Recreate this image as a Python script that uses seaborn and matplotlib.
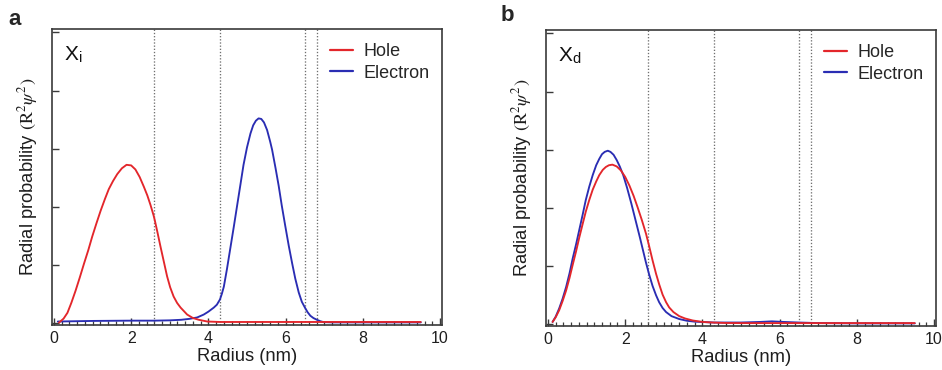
import numpy as np
import pandas as pd
import matplotlib
matplotlib.use("Agg")
import matplotlib.pyplot as plt
import seaborn as sns
from matplotlib.ticker import MultipleLocator

# ---------------- data ----------------
# Panel a (X_i)
a_hole_x = [0.13, 0.25, 0.35, 0.45, 0.56, 0.67, 0.78, 0.89, 0.99, 1.10, 1.21, 1.32, 1.42,
            1.53, 1.64, 1.76, 1.88, 2.00, 2.11, 2.22, 2.33, 2.42, 2.50, 2.58, 2.61, 2.68,
            2.76, 2.85, 2.93, 3.01, 3.10, 3.19, 3.28, 3.45, 3.60, 3.75, 3.97, 4.30, 5.0,
            6.0, 7.0, 8.0, 9.0, 9.5]
a_hole_y = [0.00, 0.07, 0.17, 0.34, 0.55, 0.78, 1.02, 1.25, 1.48, 1.71, 1.93, 2.13, 2.30,
            2.44, 2.56, 2.66, 2.72, 2.71, 2.64, 2.51, 2.34, 2.19, 2.03, 1.85, 1.77, 1.56,
            1.31, 1.04, 0.80, 0.61, 0.45, 0.34, 0.26, 0.14, 0.08, 0.05, 0.02, 0.012, 0.012,
            0.012, 0.012, 0.012, 0.012, 0.012]
a_elec_x = [0.10, 1.0, 2.0, 2.6, 3.0, 3.3, 3.5, 3.71, 3.88, 4.00, 4.14, 4.22, 4.30, 4.35,
            4.40, 4.48, 4.57, 4.66, 4.74, 4.83, 4.91, 5.00, 5.09, 5.16, 5.23, 5.30, 5.37,
            5.44, 5.52, 5.60, 5.65, 5.74, 5.82, 5.90, 5.99, 6.08, 6.17, 6.25, 6.34, 6.42,
            6.50, 6.57, 6.64, 6.72, 6.81, 6.90, 6.98, 7.2, 8.0, 9.0, 9.5]
a_elec_y = [0.02, 0.03, 0.035, 0.035, 0.04, 0.05, 0.065, 0.09, 0.14, 0.19, 0.26, 0.31,
            0.40, 0.50, 0.62, 0.92, 1.29, 1.66, 2.00, 2.38, 2.72, 3.02, 3.26, 3.40, 3.48,
            3.52, 3.51, 3.45, 3.32, 3.12, 2.98, 2.66, 2.36, 2.02, 1.67, 1.33, 1.02, 0.76,
            0.52, 0.36, 0.26, 0.18, 0.12, 0.08, 0.05, 0.025, 0.01, 0.005, 0.005, 0.005,
            0.005]

# Panel b (X_d)
b_hole_x = [0.12, 0.20, 0.29, 0.38, 0.47, 0.56, 0.64, 0.73, 0.81, 0.90, 0.98, 1.07, 1.16,
            1.25, 1.33, 1.42, 1.50, 1.58, 1.67, 1.78, 1.89, 2.00, 2.11, 2.22, 2.32, 2.43,
            2.54, 2.62, 2.71, 2.80, 2.88, 2.97, 3.06, 3.14, 3.25, 3.40, 3.55, 3.75, 4.00,
            4.26, 4.60, 5.0, 6.0, 7.0, 8.0, 9.0, 9.5]
b_hole_y = [0.03, 0.11, 0.23, 0.39, 0.57, 0.79, 1.01, 1.25, 1.48, 1.72, 1.93, 2.13, 2.31,
            2.45, 2.56, 2.65, 2.70, 2.73, 2.74, 2.71, 2.64, 2.53, 2.38, 2.20, 2.01, 1.79,
            1.55, 1.34, 1.09, 0.86, 0.68, 0.50, 0.37, 0.28, 0.20, 0.13, 0.09, 0.055, 0.03,
            0.02, 0.012, 0.01, 0.01, 0.01, 0.01, 0.01, 0.01]
b_elec_x = [0.12, 0.20, 0.29, 0.38, 0.47, 0.56, 0.64, 0.73, 0.81, 0.90, 0.98, 1.07, 1.16,
            1.25, 1.33, 1.40, 1.47, 1.55, 1.62, 1.70, 1.78, 1.86, 1.95, 2.05, 2.16, 2.27,
            2.38, 2.46, 2.54, 2.62, 2.71, 2.80, 2.88, 2.97, 3.06, 3.20, 3.40, 3.60, 3.80,
            4.30, 5.0, 5.5, 5.8, 6.1, 6.5, 7.0, 8.0, 9.0, 9.5]
b_elec_y = [0.03, 0.12, 0.26, 0.43, 0.63, 0.87, 1.12, 1.37, 1.61, 1.88, 2.13, 2.36, 2.56,
            2.73, 2.84, 2.92, 2.96, 2.98, 2.96, 2.91, 2.82, 2.71, 2.56, 2.34, 2.07, 1.78,
            1.49, 1.27, 1.05, 0.85, 0.65, 0.49, 0.37, 0.27, 0.20, 0.13, 0.08, 0.05, 0.035,
            0.02, 0.02, 0.03, 0.04, 0.03, 0.02, 0.01, 0.005, 0.005, 0.005]

interfaces = [2.6, 4.3, 6.5, 6.8]
x_ticks = [0, 2, 4, 6, 8, 10]
y_ticks = [0, 1, 2, 3, 4, 5]
series_names = ["Hole", "Electron"]
panel_letters = ["a", "b"]
panel_states = ["i", "d"]

# ---------------- styling ----------------
sns.set_style("ticks")
plt.rcParams["font.family"] = ["Liberation Sans", "DejaVu Sans"]
plt.rcParams["mathtext.fontset"] = "stix"

RED = "#e3262b"
BLUE = "#2a2db3"
palette = {"Hole": RED, "Electron": BLUE}
SPINE = "#3a3a3a"
TXT = "#1e1e1e"

fig = plt.figure(figsize=(9.42, 3.7), dpi=100)
W, H = 942, 370
ax_a = fig.add_axes([52 / W, 45 / H, 390 / W, 296 / H])
ax_b = fig.add_axes([546 / W, 44 / H, 390 / W, 296 / H])

panels = [
    (ax_a, a_hole_x, a_hole_y, a_elec_x, a_elec_y),
    (ax_b, b_hole_x, b_hole_y, b_elec_x, b_elec_y),
]

for i, (ax, hx, hy, ex, ey) in enumerate(panels):
    df = pd.concat([
        pd.DataFrame({"r": ex, "p": ey, "s": "Electron"}),
        pd.DataFrame({"r": hx, "p": hy, "s": "Hole"}),
    ], ignore_index=True)
    for xv in interfaces:
        ax.axvline(xv, color="#707070", ls=(0, (1, 1.4)), lw=0.95, zorder=1)
    sns.lineplot(data=df, x="r", y="p", hue="s", hue_order=["Electron", "Hole"],
                 palette=palette, estimator=None, sort=False, lw=1.35, ax=ax,
                 legend=False, zorder=3)

    ax.set_xlim(-0.05, 10.05)
    ax.set_ylim(-0.04, 5.06)
    ax.set_xticks(x_ticks)
    ax.xaxis.set_minor_locator(MultipleLocator(0.2))
    ax.set_yticks(y_ticks)
    ax.set_yticklabels([])
    ax.tick_params(axis="both", which="major", direction="in", length=5, width=1.0,
                   color=SPINE, labelsize=11.5, labelcolor=TXT, pad=4.5,
                   top=False, right=False)
    ax.tick_params(axis="x", which="minor", direction="in", length=2.6, width=0.9,
                   color=SPINE, top=False)
    for sp in ax.spines.values():
        sp.set_visible(True)
        sp.set_color(SPINE)
        sp.set_linewidth(1.2)

    ax.set_xlabel("Radius (nm)", fontsize=13.2, color=TXT, labelpad=1.5)
    ax.set_ylabel(r"Radial probability $(\mathrm{R}^{2}\psi^{2})$", fontsize=13.2,
                  color=TXT, labelpad=4)

    ax.text(0.03, 0.95, "X" + r"$_{\mathregular{" + panel_states[i] + "}}$",
            transform=ax.transAxes, fontsize=15, va="top", ha="left", color="#111111")

    handles = [plt.Line2D([], [], color=palette[n], lw=1.6) for n in series_names]
    ax.legend(handles, series_names, loc="upper right", frameon=False, fontsize=13,
              handlelength=1.3, handletextpad=0.55, labelspacing=0.25,
              bbox_to_anchor=(1.0, 0.995), borderaxespad=0.3)

fig.text(8 / W, 1 - 9 / H, panel_letters[0], fontsize=16, fontweight="bold",
         va="top", ha="left")
fig.text(501 / W, 1 - 5 / H, panel_letters[1], fontsize=16, fontweight="bold",
         va="top", ha="left")

fig.savefig("out.png", dpi=100)
